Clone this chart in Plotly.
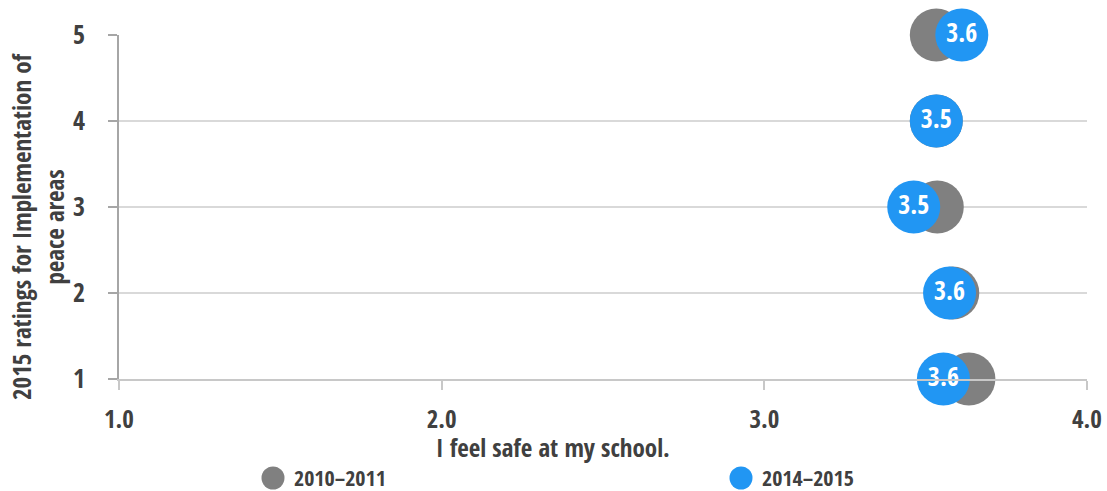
import plotly.graph_objects as go

# Ratings (1-5) for implementation of peace areas
ratings = [5, 4, 3, 2, 1]
# Mean agreement with "I feel safe at my school." per rating group
safe_2010 = [3.533, 3.533, 3.536, 3.584, 3.634]
safe_2014 = [3.612, 3.533, 3.463, 3.574, 3.555]

series_names = ["2010–2011", "2014–2015"]
x_ticks = [1.0, 2.0, 3.0, 4.0]
y_ticks = [1, 2, 3, 4, 5]

GREY = "#808080"
BLUE = "#2196F3"
TEXT = "#404040"
FONT = ("Open Sans Condensed, Roboto Condensed, Fira Sans Condensed, PT Sans Narrow, "
        "Archivo Narrow, Asap Condensed, DejaVu Sans Condensed, sans-serif")

W, H = 1107, 491
ML, MR, MT, MB = 119, 20, 35, 112
PW, PH = W - ML - MR, H - MT - MB


def px_x(px):
    return (px - ML) / PW


def px_y(py):
    return (H - MB - py) / PH


fig = go.Figure()
fig.add_trace(go.Scatter(
    x=safe_2010, y=ratings, mode="markers", name=series_names[0],
    marker=dict(size=53, color=GREY, line=dict(width=0)),
    cliponaxis=False, showlegend=False,
))
fig.add_trace(go.Scatter(
    x=safe_2014, y=ratings, mode="markers+text", name=series_names[1],
    marker=dict(size=53, color=BLUE, line=dict(width=0)),
    texttemplate="%{x:.1f}", textposition="middle center",
    textfont=dict(family=FONT, size=26, color="white", weight="bold"),
    cliponaxis=False, showlegend=False,
))

# Legend drawn as circles with labels below the axis title
legend_pos = [(273, GREY), (741, BLUE)]
for (cx, col), name in zip(legend_pos, series_names):
    r = 11.5
    fig.add_shape(type="circle", xref="paper", yref="paper",
                  x0=px_x(cx - r), x1=px_x(cx + r),
                  y0=px_y(478 + r), y1=px_y(478 - r),
                  fillcolor=col, line=dict(width=0))
    fig.add_annotation(xref="paper", yref="paper", x=px_x(cx + 19), y=px_y(476.5),
                       xanchor="left", yanchor="middle", showarrow=False,
                       text=name, font=dict(family=FONT, size=22, color=TEXT, weight="bold"))

# Axis titles
fig.add_annotation(xref="paper", yref="paper", x=px_x(553), y=px_y(446.5),
                   xanchor="center", yanchor="middle", showarrow=False,
                   text="I feel safe at my school.",
                   font=dict(family=FONT, size=25, color=TEXT, weight="bold"))
fig.add_annotation(xref="paper", yref="paper", x=px_x(37), y=px_y(226),
                   xanchor="center", yanchor="middle", showarrow=False,
                   textangle=-90,
                   text="2015 ratings for Implementation of<br>peace areas",
                   font=dict(family=FONT, size=25, color=TEXT, weight="bold"))

fig.update_layout(
    width=W, height=H,
    margin=dict(l=ML, r=MR, t=MT, b=MB, pad=0),
    paper_bgcolor="white", plot_bgcolor="white",
    showlegend=False,
    font=dict(family=FONT, color=TEXT),
)
fig.update_xaxes(
    range=[1, 4], tickvals=x_ticks, tickformat=".1f", automargin=False,
    showgrid=False, zeroline=False,
    showline=True, linecolor="#c8c8c8", linewidth=1.5,
    ticks="outside", ticklen=9, tickcolor="#c8c8c8", tickwidth=1.5,
    tickfont=dict(family=FONT, size=25, color=TEXT, weight="bold"),
    ticklabelstandoff=8,
)
fig.update_yaxes(
    range=[1, 5], tickvals=y_ticks, automargin=False,
    showgrid=True, gridcolor="#d9d9d9", gridwidth=1.5, zeroline=False,
    showline=True, linecolor="#a6a6a6", linewidth=1.5,
    ticks="outside", ticklen=9, tickcolor="#a6a6a6", tickwidth=1.5,
    tickfont=dict(family=FONT, size=26, color=TEXT, weight="bold"),
    ticklabelstandoff=18,
)

fig.write_html("out.html")
